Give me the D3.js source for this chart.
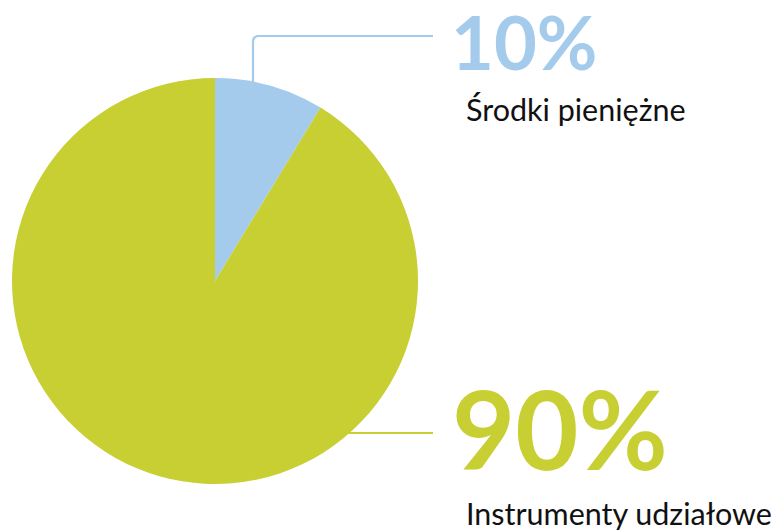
<!DOCTYPE html>
<html><head><meta charset="utf-8">
<script src="https://cdn.jsdelivr.net/npm/d3@7"></script>
<style>html,body{margin:0;padding:0;background:#fff;}svg{display:block;}</style>
</head><body>
<script>
const categories = ["Środki pieniężne", "Instrumenty udziałowe"];
const values = [8.7, 91.3];
const valueLabels = ["10%", "90%"];
const colors = ["#a4cbec", "#c8cf33"];

const W = 778, H = 530;
const svg = d3.select("body").append("svg").attr("width", W).attr("height", H);
const cx = 215, cy = 281, r = 203;

const pie = d3.pie().sort(null).value(d => d)(values);
const arc = d3.arc().innerRadius(0).outerRadius(r);

const g = svg.append("g").attr("transform", `translate(${cx},${cy})`);

// leader lines (behind pie)
svg.append("path")
  .attr("d", "M253,84 L253,42 Q253,36 259,36 L433,36")
  .attr("fill", "none").attr("stroke", colors[0]).attr("stroke-width", 2.2);
svg.append("line")
  .attr("x1", 330).attr("x2", 433).attr("y1", 433).attr("y2", 433)
  .attr("stroke", colors[1]).attr("stroke-width", 2.2);

g.selectAll("path.slice").data(pie).join("path")
  .attr("class", "slice")
  .attr("d", arc)
  .attr("fill", (d, i) => colors[i]);

const labelPos = [
  {x: 451, vy: 70, vs: 74, cy: 121},
  {x: 452, vy: 470, vs: 109, cy: 525}
];
labelPos.forEach((p, i) => {
  svg.append("text").attr("x", p.x).attr("y", p.vy)
    .attr("font-family", "Lato").attr("font-weight", 700)
    .attr("font-size", p.vs).attr("fill", colors[i])
    .text(valueLabels[i]);
  svg.append("text").attr("x", 466).attr("y", p.cy)
    .attr("font-family", "Lato").attr("font-weight", 400)
    .attr("font-size", 30.5).attr("fill", "#111")
    .text(categories[i]);
});
</script>
</body></html>
